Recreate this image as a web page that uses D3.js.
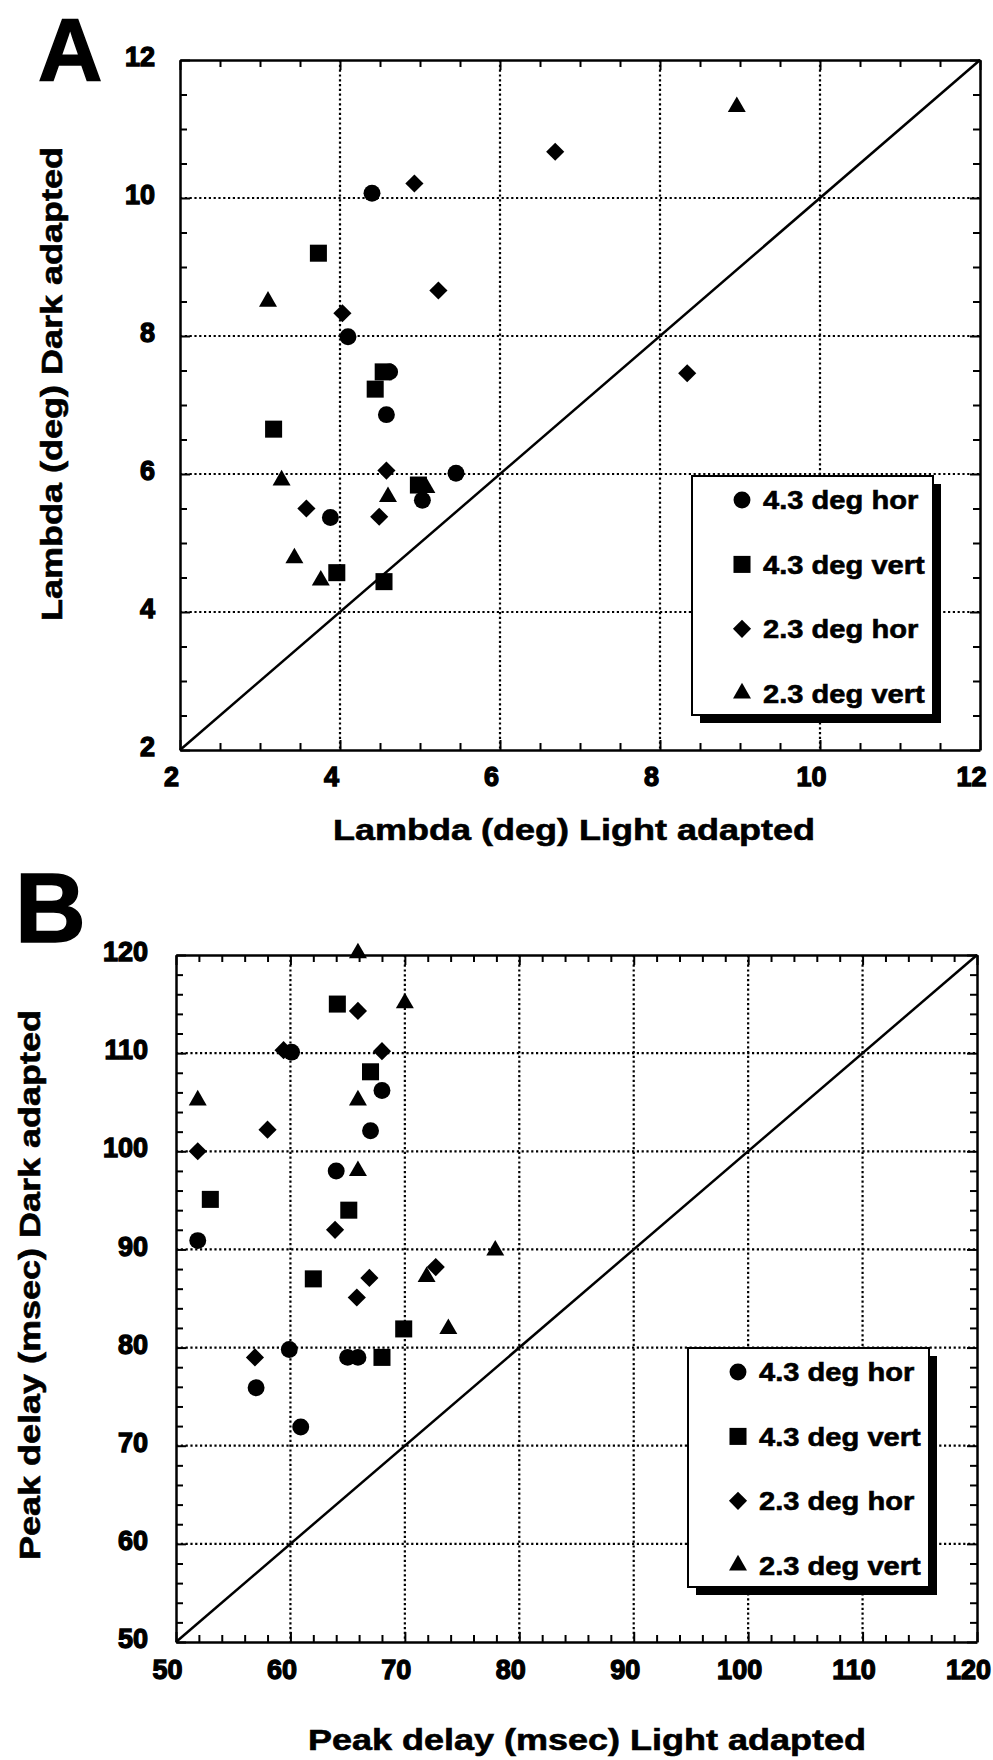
<!DOCTYPE html>
<html>
<head>
<meta charset="utf-8">
<script src="https://cdn.jsdelivr.net/npm/d3@7"></script>
<style>
  body { margin: 0; background: #fff; }
  text { font-family: "Liberation Sans", Arial, Helvetica, sans-serif; font-weight: bold; fill: #000; stroke: #000; stroke-width: 0.6px; }
  .tick text { font-size: 27px; stroke-width: 1.3px; }
</style>
</head>
<body>
<script>
var seriesNames = ["4.3 deg hor", "4.3 deg vert", "2.3 deg hor", "2.3 deg vert"];

// Panel A : lambda (deg), [light adapted, dark adapted]
var lambdaHor43 = [[4.40, 10.07], [4.10, 7.99], [4.62, 7.48], [4.58, 6.86], [5.45, 6.01], [5.03, 5.62], [3.88, 5.37]];
var lambdaVert43 = [[3.73, 9.20], [4.54, 7.48], [4.44, 7.23], [3.17, 6.65], [4.98, 5.84], [3.96, 4.57], [4.55, 4.44]];
var lambdaHor23 = [[4.93, 10.21], [6.69, 10.67], [5.23, 8.66], [4.03, 8.33], [8.34, 7.46], [4.58, 6.05], [3.58, 5.50], [4.49, 5.38]];
var lambdaVert23 = [[8.96, 11.32], [3.10, 8.50], [3.27, 5.91], [5.08, 5.80], [4.60, 5.67], [3.43, 4.78], [3.76, 4.46]];
var lambdaTicks = [2, 4, 6, 8, 10, 12];

// Panel B : peak delay (msec), [light adapted, dark adapted]
var delayHor43 = [[60.1, 110.1], [68.0, 106.2], [67.0, 102.1], [64.0, 98.0], [51.9, 90.9], [59.9, 79.8], [65.0, 79.0], [65.9, 79.0], [57.0, 75.9], [60.9, 71.9]];
var delayVert43 = [[64.1, 115.0], [67.0, 108.1], [53.0, 95.1], [65.1, 94.0], [62.0, 87.0], [69.9, 81.9], [68.0, 79.0]];
var delayHor23 = [[65.9, 114.3], [59.4, 110.3], [68.0, 110.2], [58.0, 102.2], [51.9, 100.0], [63.9, 92.0], [66.9, 87.1], [72.7, 88.2], [65.8, 85.1], [56.9, 79.0]];
var delayVert23 = [[65.9, 120.2], [70.0, 115.1], [51.9, 105.2], [65.9, 105.2], [65.9, 98.0], [77.9, 89.9], [71.9, 87.2], [73.8, 81.9]];
var delayTicks = [50, 60, 70, 80, 90, 100, 110, 120];

var svg = d3.select("body").append("svg")
  .attr("width", 993)
  .attr("height", 1760);

// circle, square, diamond, triangle
function symbolPath(k) {
  if (k == 0) return d3.symbol().type(d3.symbolCircle).size(225)();
  if (k == 1) return d3.symbol().type(d3.symbolSquare).size(290)();
  if (k == 2) return d3.symbol().type(d3.symbolSquare).size(165)();
  return d3.symbol().type(d3.symbolTriangle).size(140)();
}
function symbolRot(k) { return k == 2 ? " rotate(45)" : ""; }

function drawPanel(p) {
  var g = svg.append("g");
  var x = d3.scaleLinear().domain(p.domain).range([p.left, p.right]);
  var y = d3.scaleLinear().domain(p.domain).range([p.bottom, p.top]);
  var inner = p.ticks.slice(1, -1);

  // dotted grid
  g.selectAll(".gx").data(inner).enter().append("line")
    .attr("x1", function(d){ return x(d); })
    .attr("x2", function(d){ return x(d); })
    .attr("y1", p.top).attr("y2", p.bottom)
    .attr("stroke", "#000").attr("stroke-width", 2.2).attr("stroke-dasharray", "2.2,2.6");
  g.selectAll(".gy").data(inner).enter().append("line")
    .attr("y1", function(d){ return y(d); })
    .attr("y2", function(d){ return y(d); })
    .attr("x1", p.left).attr("x2", p.right)
    .attr("stroke", "#000").attr("stroke-width", 2.2).attr("stroke-dasharray", "2.2,2.6");

  // identity line
  g.append("line")
    .attr("x1", x(p.domain[0])).attr("y1", y(p.domain[0]))
    .attr("x2", x(p.domain[1])).attr("y2", y(p.domain[1]))
    .attr("stroke", "#000").attr("stroke-width", 2.5);

  // axes on four sides, ticks pointing inward
  var minor = d3.range(p.domain[0], p.domain[1] + 0.001, p.minorStep)
    .filter(function(d){ return p.ticks.indexOf(+d.toFixed(3)) < 0; });
  var sides = [
    {axis: d3.axisBottom(x), t: "translate(0," + p.bottom + ")", label: true},
    {axis: d3.axisTop(x), t: "translate(0," + p.top + ")", label: false},
    {axis: d3.axisLeft(y), t: "translate(" + p.left + ",0)", label: true},
    {axis: d3.axisRight(y), t: "translate(" + p.right + ",0)", label: false}
  ];
  sides.forEach(function(s, i) {
    var vertical = i >= 2;
    var ax = g.append("g").attr("transform", s.t)
      .call(s.axis.tickValues(p.ticks).tickSizeInner(-10).tickSizeOuter(0)
        .tickPadding(vertical ? p.yPad : p.xPad)
        .tickFormat(s.label ? d3.format("d") : ""));
    ax.attr("font-family", null).attr("font-size", null);
    ax.select(".domain").attr("stroke-width", 2.5);
    ax.selectAll(".tick line").attr("stroke-width", 2);
    if (!vertical) ax.selectAll(".tick text").attr("dx", -9);
    else ax.selectAll(".tick text").attr("y", -3);

    var mx = g.append("g").attr("transform", s.t)
      .call(s.axis.tickValues(minor).tickSizeInner(-7).tickFormat(""));
    mx.select(".domain").remove();
    mx.selectAll(".tick line").attr("stroke-width", 2);
  });

  // points
  p.series.forEach(function(data, k) {
    g.selectAll(".s" + k).data(data).enter().append("path")
      .attr("d", symbolPath(k))
      .attr("transform", function(d){ return "translate(" + x(d[0]) + "," + y(d[1]) + ")" + symbolRot(k); })
      .attr("fill", "#000");
  });

  // legend with drop shadow
  var lg = g.append("g").attr("transform", "translate(" + p.legend[0] + "," + p.legend[1] + ")");
  lg.append("rect").attr("x", 8).attr("y", 8).attr("width", 241).attr("height", 239).attr("fill", "#000");
  lg.append("rect").attr("width", 241).attr("height", 239)
    .attr("fill", "#fff").attr("stroke", "#000").attr("stroke-width", 2);
  seriesNames.forEach(function(name, k) {
    var yy = 24 + 64.4 * k;
    lg.append("path").attr("d", symbolPath(k))
      .attr("transform", "translate(50," + yy + ")" + symbolRot(k));
    lg.append("text")
      .attr("transform", "translate(71," + yy + ") scale(1.12,1)")
      .attr("dy", "0.36em")
      .style("font-size", "26px")
      .text(name);
  });

  // axis titles
  g.append("text")
    .attr("transform", "translate(" + p.xTitle[0] + "," + p.xTitle[1] + ") scale(1.2,1)")
    .attr("text-anchor", "middle").style("font-size", "30px")
    .text(p.xLabel);
  g.append("text")
    .attr("transform", "translate(" + p.yTitle[0] + "," + p.yTitle[1] + ") rotate(-90) scale(1.2,1)")
    .attr("text-anchor", "middle").style("font-size", "30px")
    .text(p.yLabel);

  // panel letter
  g.append("text")
    .attr("x", p.letterPos[0]).attr("y", p.letterPos[1])
    .style("font-size", p.letterSize + "px")
    .style("stroke-width", "1.5px")
    .text(p.letter);
}

drawPanel({
  domain: [2, 12], ticks: lambdaTicks, minorStep: 0.5,
  left: 180, right: 980, top: 60, bottom: 750,
  xPad: 17, yPad: 25,
  series: [lambdaHor43, lambdaVert43, lambdaHor23, lambdaVert23],
  legend: [692, 476],
  xLabel: "Lambda (deg) Light adapted", xTitle: [574, 840],
  yLabel: "Lambda (deg) Dark adapted", yTitle: [62, 384],
  letter: "A", letterPos: [38, 81], letterSize: 89
});

drawPanel({
  domain: [50, 120], ticks: delayTicks, minorStep: 2,
  left: 176, right: 977, top: 955, bottom: 1642,
  xPad: 18, yPad: 28,
  series: [delayHor43, delayVert43, delayHor23, delayVert23],
  legend: [688, 1348],
  xLabel: "Peak delay (msec) Light adapted", xTitle: [587, 1750],
  yLabel: "Peak delay (msec) Dark adapted", yTitle: [40, 1285],
  letter: "B", letterPos: [15, 942], letterSize: 98
});
</script>
</body>
</html>
